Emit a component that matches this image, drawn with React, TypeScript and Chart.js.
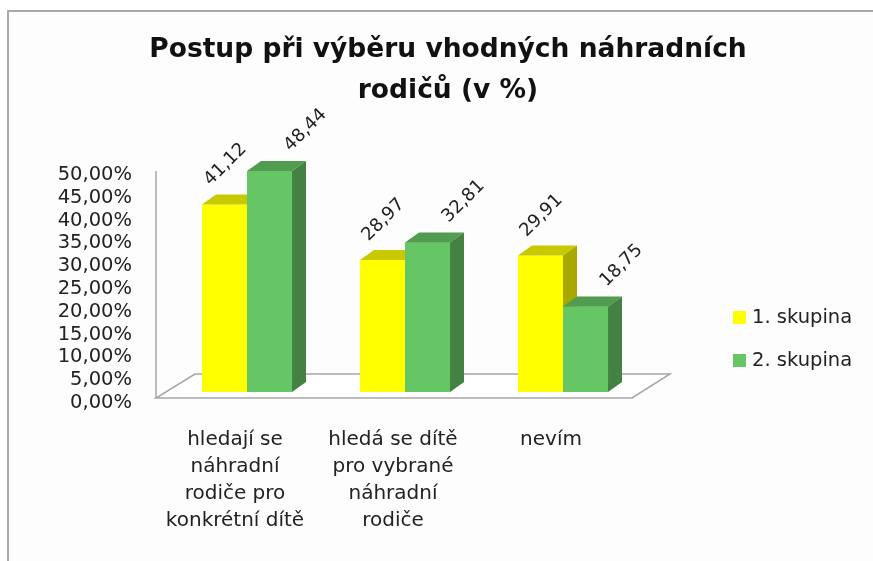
import React, { useEffect, useRef } from "react";
import { Chart, registerables } from "chart.js";

Chart.register(...registerables);

const TITLE_LINES = ["Postup při výběru vhodných náhradních", "rodičů (v %)"];
const CATEGORIES: string[][] = [
  ["hledají se", "náhradní", "rodiče pro", "konkrétní dítě"],
  ["hledá se dítě", "pro vybrané", "náhradní", "rodiče"],
  ["nevím"],
];
const SERIES_NAMES = ["1. skupina", "2. skupina"];
const GROUP_1 = [41.12, 28.97, 29.91];
const GROUP_2 = [48.44, 32.81, 18.75];
const Y_MIN = 0;
const Y_MAX = 50;
const Y_STEP = 5;

const FRONT = ["#FFFF00", "#66C666"];
const TOP = ["#C9C900", "#519C51"];
const SIDE = ["#A8A800", "#448244"];
const LABEL_OFF = [
  [1, -40],
  [36, -41],
];
const FONT = "'DejaVu Sans', 'Liberation Sans', sans-serif";
const DX = 14;
const DY = 10;

const fmt = (v: number) => v.toFixed(2).replace(".", ",");

const threeD = {
  id: "threeD",
  beforeDraw(chart: any) {
    const ctx = chart.ctx as CanvasRenderingContext2D;
    const W = chart.width;
    const H = chart.height;
    ctx.save();
    ctx.fillStyle = "#fdfdfd";
    ctx.fillRect(8, 11, W, H);
    ctx.strokeStyle = "#a9a9a9";
    ctx.lineWidth = 2;
    ctx.beginPath();
    ctx.moveTo(8, H);
    ctx.lineTo(8, 11);
    ctx.lineTo(W, 11);
    ctx.stroke();
    ctx.fillStyle = "#111";
    ctx.font = `bold 26.5px ${FONT}`;
    ctx.textAlign = "center";
    ctx.textBaseline = "middle";
    ctx.fillText(TITLE_LINES[0], 448, 50);
    ctx.fillText(TITLE_LINES[1], 448, 91);
    ctx.restore();
  },
  beforeDatasetsDraw(chart: any) {
    const ctx = chart.ctx as CanvasRenderingContext2D;
    const { left: L, right: R, bottom: B } = chart.chartArea;
    const yTop = chart.scales.y.getPixelForValue(Y_MAX);
    ctx.save();
    ctx.beginPath();
    ctx.moveTo(L - 12, B + 6);
    ctx.lineTo(R - 10, B + 6);
    ctx.lineTo(R + 28, B - 18);
    ctx.lineTo(L + 27, B - 18);
    ctx.closePath();
    ctx.fillStyle = "#ffffff";
    ctx.fill();
    ctx.strokeStyle = "#a6a6a6";
    ctx.lineWidth = 1.5;
    ctx.stroke();
    ctx.beginPath();
    ctx.moveTo(L - 12, yTop + 7);
    ctx.lineTo(L - 12, B + 6);
    ctx.stroke();
    ctx.restore();
  },
  afterDatasetsDraw(chart: any) {
    const ctx = chart.ctx as CanvasRenderingContext2D;
    ctx.save();
    const n = CATEGORIES.length;
    for (let i = 0; i < n; i++) {
      for (let d = 0; d < 2; d++) {
        const el = chart.getDatasetMeta(d).data[i];
        const { x, y, base, width } = el.getProps(["x", "y", "base", "width"], true);
        const l = x - width / 2;
        const r = x + width / 2;
        if (d === 1) {
          ctx.fillStyle = FRONT[d];
          ctx.fillRect(l, y, width, base - y);
        }
        ctx.fillStyle = TOP[d];
        ctx.beginPath();
        ctx.moveTo(l, y);
        ctx.lineTo(r, y);
        ctx.lineTo(r + DX, y - DY);
        ctx.lineTo(l + DX, y - DY);
        ctx.closePath();
        ctx.fill();
        ctx.fillStyle = SIDE[d];
        ctx.beginPath();
        ctx.moveTo(r, y);
        ctx.lineTo(r + DX, y - DY);
        ctx.lineTo(r + DX, base - DY);
        ctx.lineTo(r, base);
        ctx.closePath();
        ctx.fill();
      }
    }
    ctx.font = `18px ${FONT}`;
    ctx.fillStyle = "#222";
    ctx.textAlign = "center";
    ctx.textBaseline = "middle";
    for (let d = 0; d < 2; d++) {
      const meta = chart.getDatasetMeta(d);
      const vals = chart.data.datasets[d].data as number[];
      meta.data.forEach((el: any, i: number) => {
        const { x, y } = el.getProps(["x", "y"], true);
        ctx.save();
        ctx.translate(x + LABEL_OFF[d][0], y + LABEL_OFF[d][1]);
        ctx.rotate(-Math.PI / 4);
        ctx.fillText(fmt(vals[i]), 0, 0);
        ctx.restore();
      });
    }
    ctx.restore();
  },
  afterDraw(chart: any) {
    const ctx = chart.ctx as CanvasRenderingContext2D;
    ctx.save();
    ctx.font = `19.5px ${FONT}`;
    ctx.textAlign = "left";
    ctx.textBaseline = "middle";
    SERIES_NAMES.forEach((name, i) => {
      const y = 318 + i * 43;
      ctx.fillStyle = FRONT[i];
      ctx.fillRect(733, y - 7, 13, 13);
      ctx.fillStyle = "#222";
      ctx.fillText(name, 752, y);
    });
    ctx.restore();
  },
};

export default function App() {
  const ref = useRef<HTMLCanvasElement | null>(null);
  useEffect(() => {
    if (!ref.current) return;
    const chart = new Chart(ref.current, {
      type: "bar",
      data: {
        labels: CATEGORIES,
        datasets: [
          { label: SERIES_NAMES[0], data: GROUP_1, backgroundColor: FRONT[0], borderWidth: 0 },
          { label: SERIES_NAMES[1], data: GROUP_2, backgroundColor: FRONT[1], borderWidth: 0 },
        ],
      },
      options: {
        responsive: false,
        animation: false,
        devicePixelRatio: 1,
        layout: { padding: { top: 164, right: 231, left: 0, bottom: 0 } },
        datasets: { bar: { categoryPercentage: 0.57, barPercentage: 1 } },
        plugins: { legend: { display: false }, title: { display: false }, tooltip: { enabled: false } },
        scales: {
          x: {
            grid: { display: false, drawTicks: false },
            border: { display: false },
            ticks: {
              autoSkip: false,
              maxRotation: 0,
              minRotation: 0,
              padding: 34,
              labelOffset: -12,
              color: "#222",
              font: { family: FONT, size: 20, lineHeight: "27px" },
            },
            afterFit(s: any) {
              s.height = 169;
            },
          },
          y: {
            min: Y_MIN,
            max: Y_MAX,
            grid: { display: false, drawTicks: false },
            border: { display: false },
            ticks: {
              autoSkip: false,
              stepSize: Y_STEP,
              padding: 36,
              labelOffset: 11,
              color: "#222",
              font: { family: FONT, size: 19.5 },
              callback: (v: any) => fmt(Number(v)) + "%",
            },
            afterFit(s: any) {
              s.width = 168;
            },
          },
        },
      } as any,
      plugins: [threeD],
    });
    return () => chart.destroy();
  }, []);
  return (
    <div style={{ position: "absolute", left: 0, top: 0, width: 873, height: 561, background: "#fff" }}>
      <canvas ref={ref} width={873} height={561} />
    </div>
  );
}
